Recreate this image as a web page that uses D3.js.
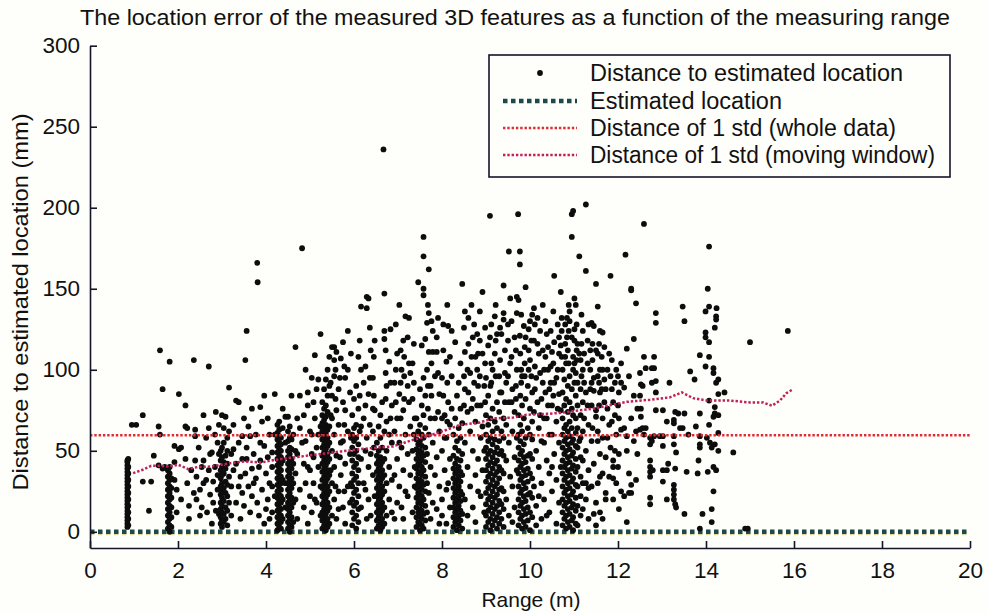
<!DOCTYPE html>
<html><head><meta charset="utf-8">
<script src="https://cdn.jsdelivr.net/npm/d3@7"></script>
<style>
html,body{margin:0;padding:0;background:#fefefa;}
svg{display:block;font-family:"Liberation Sans",Arial,Helvetica,sans-serif;}
</style></head>
<body><svg id="chart" width="988" height="614"></svg>
<script>
// ---------- data ----------
const xTicks = [0,2,4,6,8,10,12,14,16,18,20];
const yTicks = [0,50,100,150,200,250,300];
const stdWhole = 59.6;          // mm
const estimatedLocation = 0;    // mm
const movRange = [0.98,1.2,1.39,1.58,1.81,2.0,2.23,2.45,2.76,2.98,3.21,3.52,3.9,4.2,4.5,4.8,5.26,5.71,6.02,6.32,6.89,7.35,7.65,8.11,8.41,8.86,9.17,9.62,9.92,10.38,10.68,11.0,11.44,11.8,12.2,12.73,13.18,13.45,13.71,14.02,14.55,15.0,15.3,15.5,15.68,15.83,15.98];
const movStd   = [36.2,38.3,40.7,40.7,40.3,41.4,38.7,40,40.3,41.4,42.4,43.4,42.8,44.4,45.5,46.5,48.1,49.6,50.6,51.5,52.7,56.8,58.8,63,66,67.5,70,70.5,72.2,72.8,73.3,74.5,76,78,80.2,81.5,83,86,82.5,81,81,79.8,79.8,77.8,81,85.6,88];

// each entry: [range (m), [distances (mm)...]]
const pointsNear = [
[0.85,[3,5,7,9,11,13,15,17,19,21,23,25,27,29,31,33,35,37,39,41,43,44]],
[0.87,[4,8,12,16,20,24,28,32,36,40,45]],
[0.95,[66]],[1.05,[66]],[1.2,[72,31]],[1.34,[13]],[1.39,[31]],[1.45,[47]],
[1.56,[65,41]],[1.59,[112,60]],[1.65,[88,39]],[1.7,[40]],
[1.77,[2,6,10,14,18,22,26,30,34,38]],
[1.81,[105,0,4,8,12,16,20,24,28,32,36,40]],
[1.85,[3,9,15,21,27,33]],
[1.92,[53,32,43]],[1.97,[26,12]],[2.02,[85,51]],[2.07,[52,20]],[2.17,[78,65,45]],[2.21,[64,30]],[2.25,[16,8]],[2.3,[38]],[2.36,[106,24]],[2.39,[63,59,44]],[2.42,[34,20]],[2.47,[52]],[2.5,[26,10]],[2.54,[15,40]],[2.58,[72,44,30]],[2.64,[32,58]],[2.66,[12]],[2.7,[102,64,38]],[2.73,[23,48]],[2.77,[49,5]],[2.8,[18,31]],[2.84,[40,60]],[2.86,[74,13]],[2.9,[26,55,35]],[2.93,[11,48,66]],
[2.97,[5,9,14,18,23,28,33,38,44,50]],
[3.0,[3,7,12,16,21,25,30,35,40,46,52,72]],
[3.04,[6,11,19,27,36,43,55,64]],
[3.08,[8,15,24,31,39,47,71]],
[3.12,[4,13,22,29,42,50,58]],
[3.16,[89,18,34,62]],
[3.21,[48,10,28]],[3.26,[51,66,38]],[3.32,[81,42,18]],[3.38,[80,28,55]],[3.42,[34,8]],[3.46,[24,59,45]],[3.5,[16,70]],[3.53,[106,36]],[3.56,[124,45,52]],[3.6,[28,65]],[3.64,[59,12]],[3.68,[39,76,22]],[3.72,[48,30]],[3.77,[33,60]],[3.8,[166,18]],[3.81,[154]],[3.84,[10,40]],[3.87,[77,44,55]],[3.91,[26,68]],[3.96,[84,53,5]],[4.0,[36,14]],[4.04,[70,20,46]],[4.08,[30,60,8]]
];
const pointsMid = [
[4.14,[28,49,12,40]],[4.2,[60,85,22]],
[4.26,[1,5,9,13,17,21,25,29,33,37,41,45,49,53,57,61,66]],
[4.3,[3,7,11,15,19,23,27,31,35,39,43,47,51,55,59,63,68]],
[4.34,[2,6,10,14,18,22,26,30,34,38,42,46,50,54,58]],
[4.38,[8,20,32,44,76,64]],
[4.44,[71,55,30,15]],
[4.5,[2,6,10,14,18,22,26,30,34,38,42,46,50,56,62,71]],
[4.54,[0,4,8,12,16,20,24,28,32,36,40,44,48,52,58,65]],
[4.58,[3,9,15,21,27,33,39,45,51,57,84]],
[4.62,[6,18,30,42,60]],
[4.67,[114,36,20,50]],[4.71,[48,8,70]],[4.77,[64,84,26]],[4.82,[175,55]],[4.86,[42,15,72]],[4.9,[56,30,100]],[4.95,[86,78,5,40]],[5.0,[38,22,62]],[5.04,[95,60,12,48]],[5.08,[46,30,80]],[5.11,[109,70,20]],[5.15,[18,52,88]],[5.19,[94,40,60]],[5.24,[122,65,28,10]],
[5.28,[2,7,12,17,22,27,32,37,42,47,52,57,62,67,72,80]],
[5.32,[4,9,14,19,24,29,34,39,44,49,54,59,64,69,76,88]],
[5.36,[1,6,11,16,21,26,31,36,41,46,51,56,61,66,71,78,94]],
[5.4,[3,8,13,18,23,28,33,38,43,48,53,58,63,74,100,84]],
[5.44,[5,15,25,35,45,55,65,90,108]],
[5.5,[10,30,50,70,114,84]],
[5.55,[20,40,60,106,114,96]],[5.6,[111,8,47,75]],[5.65,[25,66,88,14]],[5.7,[107,35,55]],[5.75,[117,56,15,80]],[5.8,[42,75,95,5]],[5.86,[124,28,62,100]],[5.91,[18,48,86]],
[5.96,[4,12,20,28,36,44,52,60,72]],
[6.0,[8,16,24,32,40,48,56,64,82]],
[6.05,[2,10,18,26,34,42,50,58,66,90]],
[6.1,[6,14,22,30,38,46,54,76,108]],
[6.16,[139,100,45,15,65]],[6.22,[70,30,92]],[6.29,[145,138,58,8]],[6.33,[144,85,20,40]],[6.38,[48,10,112]],[6.43,[95,62,35,76]],[6.47,[118,75,22]],
[6.52,[2,7,12,17,22,27,32,37,42,47,55]],
[6.56,[4,9,14,19,24,29,34,39,44,50,65]],
[6.6,[1,6,11,16,21,26,31,36,41,46,58,72]],
[6.64,[3,8,13,18,23,28,33,38,43,52,80]],
[6.67,[236]],
[6.69,[5,15,25,35,45,62,119,124,147]],
[6.74,[10,30,50,90,68]],[6.8,[20,40,105,60]],[6.86,[12,55,78,32]],[6.92,[35,92,62,8]],[6.98,[18,45,70,110]],[7.03,[140,85,28,55]],[7.08,[52,100,15]],[7.12,[8,38,75,118]],[7.17,[133,60,25]],[7.22,[120,90,22,48]],[7.28,[65,35,98]],[7.33,[82,12,104,50]],[7.38,[28,70,40]],
[7.42,[3,9,15,21,27,33,39,45,51,57,70]],
[7.46,[6,12,18,24,30,36,42,48,54,62,154]],
[7.5,[1,5,10,14,19,23,28,32,37,41,46,50,56,66,88]],
[7.54,[4,8,13,17,22,26,31,35,40,44,49,53,60,78,115]],
[7.58,[182,170,150,146,2,11,20,29,38,47,58,72,95]],
[7.62,[7,16,25,34,43,52,64,84,119]],
[7.66,[129,12,30,48,100]],[7.7,[162,135,111,24,60]],[7.74,[40,90,8,70]],[7.79,[111,124,55,18]],[7.84,[35,70,96]],[7.88,[111,120,46,14]],[7.94,[28,62,85,5]]
];
const pointsFar = [
[8.0,[20,50,95,10,70]],[8.06,[38,72,58]],[8.1,[5,58,105,26]],[8.14,[127,30,80]],[8.18,[108,15,45,66]],
[8.26,[3,9,15,21,27,33,39,47,60]],
[8.3,[6,12,18,24,30,36,42,52,70,117]],
[8.34,[1,8,14,20,26,32,38,45,56,84]],
[8.38,[4,10,16,22,28,34,40,50,64,92]],
[8.42,[7,13,19,25,31,37,44,58,76,104]],
[8.46,[2,11,23,35,48,67,153]],
[8.52,[136,111,20,55,88]],[8.58,[40,74,10,100]],[8.64,[28,62,98]],[8.7,[15,50,82,120]],[8.76,[35,68,6,108]],[8.82,[45,90,110,25]],[8.88,[22,58,78]],[8.92,[148,110,38,65]],[8.96,[12,50,90]],
[9.0,[3,10,17,24,31,38,45,52,60,72,95]],
[9.05,[6,13,20,27,34,41,48,56,66,84,115]],
[9.09,[195,120]],
[9.1,[1,8,15,22,29,36,43,50,58,70,90]],
[9.15,[4,11,18,25,32,39,46,54,62,76,100]],
[9.2,[7,14,21,28,35,42,49,57,68,110,133]],
[9.25,[2,9,16,23,30,37,44,52,64,80,122]],
[9.3,[5,12,19,26,33,40,48,56,74,96]],
[9.35,[8,17,27,38,50,62,86,122]],
[9.4,[3,14,25,36,47,58,70,131,135,152]],
[9.46,[20,44,66,92]],[9.52,[173,10,55,80]],[9.55,[144,34,104]],[9.6,[28,62,88,6]],[9.65,[120,15,46,74]],[9.7,[145,135,38,58,100]],
[9.73,[196]],
[9.74,[4,12,20,28,36,44,52,60,72,143]],
[9.77,[173,165,121]],
[9.78,[8,16,24,32,40,48,56,66,84,110]],
[9.82,[2,10,18,26,34,42,50,62,78,96]],
[9.86,[6,14,22,30,38,46,54,70,127]],
[9.9,[3,11,19,27,35,43,58,82,120,151]],
[9.95,[7,15,23,31,39,47,64,90]],
[10.0,[1,12,24,36,48,60,76,130,106]],
[10.05,[9,21,33,45,57,68,86,134]],
[10.09,[138,118,28,74]],[10.14,[16,50,95,4]],[10.2,[40,64,110,22]],[10.26,[8,30,82,56]],[10.32,[55,100,20,70]],[10.38,[122,44,70,10]],[10.44,[12,36,88,60]],[10.5,[111,60,25,78,40]],[10.55,[158,117,48,92]],[10.6,[95,32,68,5]],[10.66,[110,55,85,18,120]],
[10.7,[148,115,40,75]],
[10.74,[4,12,20,28,36,44,52,60,70,86,100]],
[10.78,[8,16,24,32,40,48,56,64,78,94]],
[10.82,[2,10,18,26,34,42,50,58,66,82,104]],
[10.86,[6,14,22,30,38,46,54,62,74,90,112]],
[10.9,[136,130,3,11,19,27,35,43,51,59,68,80,96]],
[10.95,[182,196,7,15,23,31,39,47,55,64,76,88,120]],
[10.98,[198,1,9,17,25,33,41,49,57,72,100,108]],
[11.01,[144,125,118,104,92]],
[11.04,[140,5,13,21,29,37,45,53,61,70,84,98]],
[11.08,[4,16,28,40,52,64,78,92,116]],
[11.12,[170,56,110]],
[11.15,[10,22,34,46,58,72,88,106]],
[11.2,[14,30,44,62,80,100,124]],
[11.27,[202,161,86,50,20,30]],
[11.33,[128,66,38,8,27]],
[11.4,[129,92,28,56,78]],
[11.45,[127,95,87,11,42]],
[11.5,[153,112,75,71,18,4]],
[11.54,[139,110,96,62,30,56]],
[11.59,[124,100,86,48,12,34]],
[11.65,[123,100,70,36,58,8]],
[11.72,[88,24,46,20]],
[11.8,[110,66,34]],
[11.83,[158,52,96]],
[11.89,[80,44,40,33,20]],
[11.96,[100,60,30]]
];
const pointsEnd = [
[12.02,[86,48,14,70]],[12.07,[104,92,63,25]],[12.14,[89,64,22]],[12.17,[171]],[12.2,[113,59,50,6]],[12.25,[96,36,24]],[12.3,[150,149,70,29,24]],[12.36,[119,84,56]],[12.41,[141,32,62]],[12.44,[76,48]],
[12.5,[84,63,98]],[12.52,[91,76,71]],[12.56,[90,64]],[12.59,[190,108,60]],[12.63,[101,64]],[12.73,[58,54,44,40,37,34,21,17]],[12.77,[92,101,56]],[12.79,[38]],[12.82,[108,101,59]],[12.86,[135,129,93,86,75]],[12.95,[59]],[13.02,[75,59,53,38,31]],[13.11,[68,38,20]],[13.14,[42]],[13.17,[92]],[13.27,[69,67,29,26,23,20,59,54]],[13.3,[74,17,39]],[13.32,[15,49]],[13.37,[73]],[13.41,[64]],[13.47,[139,64]],[13.51,[130,73,11]],[13.56,[37]],[13.6,[60]],[13.64,[99]],[13.74,[94]],[13.77,[65]],[13.81,[36]],[13.83,[44]],[13.86,[109,73,59,54,52,2]],[13.92,[11]],[13.99,[136,123,120,102]],[14.02,[58]],[14.04,[150,37]],[14.07,[176,139,117,108,66,81]],[14.09,[55]],[14.13,[52,14,6]],[14.17,[101,98,71,40,25]],[14.2,[126,77,73,54]],[14.23,[133,131,92,38]],[14.24,[138]],[14.28,[94,85,72,61,50]],[14.42,[86]],[14.62,[49]],[14.89,[2]],[14.95,[2]],[15.0,[117]],[15.86,[124]]
];
const pointsUpper = [
[5.47,[92,72,38]],[5.58,[82,28,100]],[5.68,[95,46]],[5.78,[102,66,25]],[5.93,[110,58,30]],[6.13,[118,84,62]],[6.26,[102,78,50,26]],[6.36,[126,95,66]],[6.45,[108,52,84]],[6.72,[98,82,112]],[6.83,[92,125,70]],[6.95,[80,100,128]],[7.06,[70,112,92]],[7.14,[96,82,108]],[7.25,[104,80,132]],[7.36,[92,116,60]],[7.68,[90,76,140]],[7.76,[104,84,130]],[7.91,[98,74,132]],[8.03,[84,112,128]],[8.12,[92,68,140]],[8.22,[76,96,124]],[8.5,[96,78,126]],[8.6,[86,116,132]],[8.67,[76,108,140]],[8.73,[92,128]],[8.8,[78,100,122]],[8.86,[96,118,136]],[8.98,[80,104,126]],[9.12,[104,92,128]],[9.22,[96,118,140]],[9.32,[86,106,126]],[9.43,[80,112,98]],[9.5,[96,128,118]],[9.58,[108,80,130]],[9.68,[90,112,82]],[9.8,[100,92,134]],[9.88,[104,114,96]],[9.97,[100,112,125]],[10.03,[96,118]],[10.11,[102,88,128]],[10.17,[116,80,132]],[10.23,[98,124,72]],[10.29,[112,92,140]],[10.35,[86,108,130]],[10.41,[100,114,78]],[10.47,[92,124,102]],[10.53,[84,104,136]],[10.63,[100,128,76]],[10.72,[108,124,132]],[10.8,[116,128,108]],[10.84,[120,132]],[10.88,[104,124,140]],[11.06,[106,128,112]],[11.17,[116,96,134]],[11.23,[110,92,70]],[11.31,[104,118,78]],[11.37,[100,112,88]],[11.42,[106,64,116]],[11.57,[92,78,116]],[11.63,[108,88]],[11.69,[94,80,114]],[11.76,[100,76,58]],[11.86,[106,88,68]],[11.93,[92,72,50]],[12.0,[96,78,40]]
];

const title = "The location error of the measured 3D features as a function of the measuring range";
const xLabel = "Range (m)";
const yLabel = "Distance to estimated location (mm)";
const legendLabels = ["Distance to estimated location","Estimated location","Distance of 1 std (whole data)","Distance of 1 std (moving window)"];

// ---------- drawing ----------
const svg = d3.select("#chart");
const x = d3.scaleLinear().domain([0,20]).range([90,970]);
const y = d3.scaleLinear().domain([-10,300]).range([548,45.7]);

const C_TEAL = "#1c4a4c", C_RED = "#e02a34", C_CRIM = "#c0205c";
const FONT = '"Liberation Sans",Arial,Helvetica,sans-serif';

svg.append("rect").attr("width",988).attr("height",614).attr("fill","#fefefa");

// title
svg.append("text").attr("x",515).attr("y",25).attr("text-anchor","middle")
  .attr("font-size",22).attr("fill","#111")
  .attr("textLength",870).attr("lengthAdjust","spacingAndGlyphs").text(title);

// points
const pts = [];
[pointsNear,pointsMid,pointsFar,pointsEnd,pointsUpper].forEach(arr=>arr.forEach(([r,ds])=>ds.forEach(d=>pts.push([r,d]))));

// reference lines
const line = d3.line().x(d=>x(d[0])).y(d=>y(d[1]));
svg.append("path").datum([[0,estimatedLocation],[20,estimatedLocation]])
  .attr("d",line).attr("fill","none").attr("stroke","#dede9a").attr("stroke-width",4.5)
  .attr("stroke-dasharray","4.5,3.5").attr("transform","translate(0,1.2)");
svg.append("path").datum([[0,estimatedLocation],[20,estimatedLocation]])
  .attr("d",line).attr("fill","none").attr("stroke",C_TEAL).attr("stroke-width",4.4)
  .attr("stroke-dasharray","4.5,3.5");

svg.append("g").selectAll("circle").data(pts).join("circle")
  .attr("cx",d=>x(d[0])).attr("cy",d=>y(d[1])).attr("r",2.9).attr("fill","#0d0d0d");

svg.append("path").datum([[0,stdWhole],[20,stdWhole]])
  .attr("d",line).attr("fill","none").attr("stroke",C_RED).attr("stroke-width",2.5)
  .attr("stroke-dasharray","2.4,1.9");
svg.append("path").datum(movRange.map((r,i)=>[r,movStd[i]]))
  .attr("d",line).attr("fill","none").attr("stroke",C_CRIM).attr("stroke-width",2.5)
  .attr("stroke-dasharray","2.4,1.9");

// axes
const gx = svg.append("g").attr("transform","translate(0,548)")
  .call(d3.axisBottom(x).tickValues(xTicks).tickFormat(d3.format("d")).tickSizeInner(-7).tickSizeOuter(0).tickPadding(14));
const gy = svg.append("g").attr("transform","translate(90,0)")
  .call(d3.axisLeft(y).tickValues(yTicks).tickFormat(d3.format("d")).tickSizeInner(-7).tickSizeOuter(0).tickPadding(10));
[gx,gy].forEach(g=>{
  g.selectAll("path,line").attr("stroke","#15152a").attr("stroke-width",1.6);
  g.selectAll("text").attr("font-size",22.5).attr("fill","#111").attr("font-family",FONT);
});

// axis labels
svg.append("text").attr("x",531).attr("y",607).attr("text-anchor","middle")
  .attr("font-size",21).attr("fill","#111").text(xLabel);
svg.append("text").attr("transform","translate(28,302) rotate(-90)").attr("text-anchor","middle")
  .attr("font-size",22).attr("fill","#111")
  .attr("textLength",377).attr("lengthAdjust","spacingAndGlyphs").text(yLabel);

// legend
const lg = svg.append("g");
lg.append("rect").attr("x",489).attr("y",55).attr("width",461).attr("height",122)
  .attr("fill","#fefefa").attr("stroke","#15152a").attr("stroke-width",1.6);
const rowY = [73,101,128,155];
const legendEnds = [903,782,896,935];
lg.append("circle").attr("cx",540).attr("cy",rowY[0]).attr("r",2.9).attr("fill","#0d0d0d");
lg.append("line").attr("x1",503).attr("x2",577).attr("y1",rowY[1]).attr("y2",rowY[1])
  .attr("stroke",C_TEAL).attr("stroke-width",4.4).attr("stroke-dasharray","4.5,3.5");
lg.append("line").attr("x1",503).attr("x2",577).attr("y1",rowY[2]).attr("y2",rowY[2])
  .attr("stroke",C_RED).attr("stroke-width",2.5).attr("stroke-dasharray","2.4,1.9");
lg.append("line").attr("x1",503).attr("x2",577).attr("y1",rowY[3]).attr("y2",rowY[3])
  .attr("stroke",C_CRIM).attr("stroke-width",2.5).attr("stroke-dasharray","2.4,1.9");
legendLabels.forEach((t,i)=>{
  lg.append("text").attr("x",590).attr("y",rowY[i]).attr("dy","0.36em")
    .attr("font-size",23).attr("fill","#111")
    .attr("textLength",legendEnds[i]-590).attr("lengthAdjust","spacingAndGlyphs").text(t);
});
</script></body></html>
